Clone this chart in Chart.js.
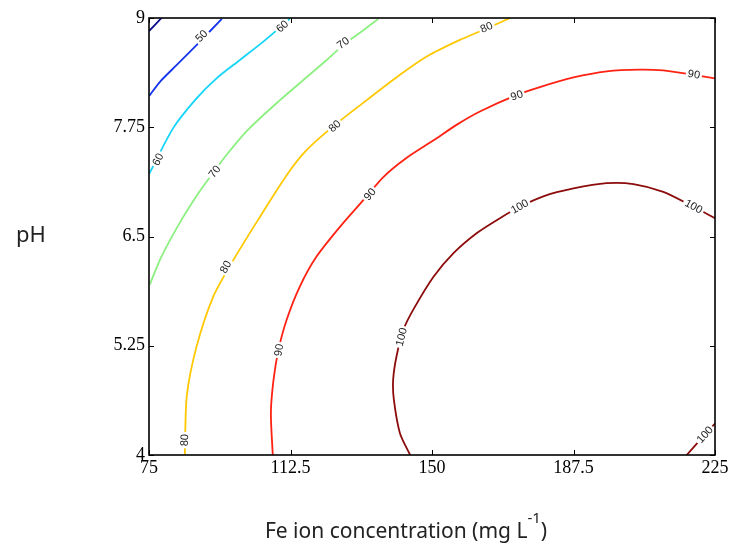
<!DOCTYPE html>
<html>
<head>
<meta charset="utf-8">
<script src="https://cdn.jsdelivr.net/npm/chart.js@4/dist/chart.umd.min.js"></script>
<style>
  html, body { margin: 0; padding: 0; background: #fff; }
  canvas { display: block; }
</style>
</head>
<body>
<canvas id="contourChart" width="732" height="552"></canvas>
<script>
//=========================================
// Axis ticks
//=========================================
const xTicks = [75, 112.5, 150, 187.5, 225];
const yTicks = [4, 5.25, 6.5, 7.75, 9];

//=========================================
// Contour lines, [Fe (mg/L), pH]
//=========================================
const contour40 = [[75.0, 8.85], [78.3, 9.0]];

const contour50 = [
  [75.1, 8.11], [77.9, 8.27], [82.3, 8.46], [87.6, 8.69], [94.3, 8.99]
];

const contour60 = [
  [75.1, 7.22], [81.4, 7.74], [87.6, 8.08], [92.9, 8.31],
  [99.1, 8.52], [105.3, 8.73], [110.2, 8.91], [112.3, 8.99]
];

const contour70 = [
  [75.2, 5.95], [78.3, 6.27], [83.6, 6.69], [88.0, 6.99], [91.5, 7.2],
  [95.1, 7.41], [101.2, 7.72], [109.7, 8.06], [115.9, 8.29], [122.1, 8.52],
  [126.5, 8.69], [131.8, 8.86], [135.8, 8.99]
];

const contour80 = [
  [84.5, 4.0], [85.0, 4.67], [87.6, 5.24], [92.0, 5.81], [96.8, 6.19],
  [103.9, 6.69], [111.8, 7.22], [116.8, 7.49], [123.8, 7.76], [132.7, 8.06],
  [141.5, 8.35], [148.6, 8.56], [157.4, 8.75], [164.5, 8.88], [170.7, 9.0]
];

const contour90 = [
  [107.8, 4.0], [107.3, 4.48], [108.0, 4.86], [109.3, 5.2], [111.5, 5.55],
  [115.0, 5.93], [119.4, 6.27], [125.6, 6.61], [132.5, 6.95], [137.1, 7.18],
  [143.3, 7.4], [150.4, 7.6], [156.6, 7.78], [162.7, 7.93], [172.5, 8.12],
  [178.6, 8.21], [187.5, 8.32], [196.3, 8.39], [205.1, 8.41], [211.3, 8.4],
  [219.3, 8.35], [225.0, 8.31]
];

const contour100 = [
  [144.2, 4.0], [141.5, 4.25], [139.9, 4.63], [139.7, 4.86], [140.6, 5.13],
  [142.4, 5.43], [145.0, 5.66], [150.4, 6.04], [155.7, 6.31], [161.9, 6.54],
  [168.0, 6.71], [173.3, 6.84], [179.5, 6.96], [187.5, 7.05], [196.3, 7.11],
  [203.4, 7.1], [211.3, 7.01], [219.3, 6.84], [225.0, 6.71]
];

const contour100b = [[217.5, 4.0], [221.0, 4.17], [225.0, 4.36]];

// inline level labels: [level, Fe, pH]
const levelLabels = [
  [50, 89.0, 8.79],
  [60, 110.4, 8.9], [60, 77.5, 7.38],
  [70, 126.5, 8.71], [70, 92.5, 7.24],
  [80, 164.5, 8.89], [80, 124.3, 7.76], [80, 95.4, 6.15], [80, 84.5, 4.17],
  [90, 219.4, 8.35], [90, 172.5, 8.11], [90, 133.6, 6.98], [90, 109.5, 5.2],
  [100, 173.3, 6.84], [100, 219.3, 6.84], [100, 142.0, 5.35], [100, 222.4, 4.23]
];

//------------------------------------
// Line styles per level
//------------------------------------
const levelColor = {
  40: "#0a0a8c",
  50: "#1434ee",
  60: "#14d4f8",
  70: "#8cf080",
  80: "#ffc800",
  90: "#ff2212",
  100: "#8c0c0c"
};

const contours = [
  { level: 40, pts: contour40 },
  { level: 50, pts: contour50 },
  { level: 60, pts: contour60 },
  { level: 70, pts: contour70 },
  { level: 80, pts: contour80 },
  { level: 90, pts: contour90 },
  { level: 100, pts: contour100 },
  { level: 100, pts: contour100b }
];

const tickFont = { family: "'Liberation Serif', 'Times New Roman', serif", size: 18 };
const titleFont = "'Noto Sans', 'DejaVu Sans', sans-serif";

//------------------------------------
// Labels, frame, inward ticks, titles
//------------------------------------
const decorPlugin = {
  id: "decor",
  afterDatasetsDraw(chart) {
    const ctx = chart.ctx;
    const xs = chart.scales.x, ys = chart.scales.y;
    ctx.save();
    ctx.font = "11px 'Liberation Sans', Arial, sans-serif";
    ctx.textAlign = "center";
    ctx.textBaseline = "middle";
    levelLabels.forEach(([lvl, lx, ly]) => {
      const px = xs.getPixelForValue(lx), py = ys.getPixelForValue(ly);
      // direction of the nearest segment of a line with the same level
      let best = Infinity, ang = 0;
      chart.data.datasets.forEach((ds, i) => {
        if (contours[i].level !== lvl) return;
        const pts = chart.getDatasetMeta(i).data;
        for (let k = 0; k < pts.length - 1; k++) {
          const a = pts[k], b = pts[k + 1];
          const mx = (a.x + b.x) / 2, my = (a.y + b.y) / 2;
          const d = (mx - px) ** 2 + (my - py) ** 2;
          if (d < best) { best = d; ang = Math.atan2(b.y - a.y, b.x - a.x); }
        }
      });
      if (ang >= Math.PI / 2) ang -= Math.PI;
      if (ang < -Math.PI / 2) ang += Math.PI;
      const txt = String(lvl);
      const w = ctx.measureText(txt).width;
      ctx.save();
      ctx.translate(px, py);
      ctx.rotate(ang);
      ctx.fillStyle = "#fff";
      ctx.fillRect(-w / 2 - 2, -6, w + 4, 12);
      ctx.fillStyle = "#222";
      ctx.fillText(txt, 0, 0);
      ctx.restore();
    });
    ctx.restore();
  },
  afterDraw(chart) {
    const ctx = chart.ctx;
    const a = chart.chartArea;
    const xs = chart.scales.x, ys = chart.scales.y;
    ctx.save();
    ctx.strokeStyle = "#000";
    ctx.lineWidth = 1.6;
    ctx.strokeRect(a.left, a.top, a.right - a.left, a.bottom - a.top);

    ctx.lineWidth = 1;
    const t = 5;
    ctx.beginPath();
    xTicks.forEach(v => {
      const px = Math.round(xs.getPixelForValue(v)) + 0.5;
      ctx.moveTo(px, a.bottom); ctx.lineTo(px, a.bottom - t);
      ctx.moveTo(px, a.top); ctx.lineTo(px, a.top + t);
    });
    yTicks.forEach(v => {
      const py = Math.round(ys.getPixelForValue(v)) + 0.5;
      ctx.moveTo(a.left, py); ctx.lineTo(a.left + t, py);
      ctx.moveTo(a.right, py); ctx.lineTo(a.right - t, py);
    });
    ctx.stroke();

    // axis titles
    ctx.fillStyle = "#222";
    ctx.textBaseline = "alphabetic";
    ctx.font = "22px " + titleFont;
    ctx.textAlign = "center";
    ctx.fillText("pH", 31, 242);

    const main = "Fe ion concentration (mg L";
    const sup = "-1";
    const close = ")";
    ctx.font = "21px " + titleFont;
    const mainW = ctx.measureText(main).width;
    const closeW = ctx.measureText(close).width;
    ctx.font = "15px " + titleFont;
    const supW = ctx.measureText(sup).width;
    const x0 = 406 - (mainW + supW + closeW) / 2;
    ctx.textAlign = "left";
    ctx.font = "21px " + titleFont;
    ctx.fillText(main, x0, 538);
    ctx.font = "15px " + titleFont;
    ctx.fillText(sup, x0 + mainW, 523);
    ctx.font = "21px " + titleFont;
    ctx.fillText(close, x0 + mainW + supW, 538);
    ctx.restore();
  }
};

//------------------------------------
// Contour chart
//------------------------------------
new Chart(document.getElementById("contourChart"), {
  type: "scatter",
  data: {
    datasets: contours.map(c => ({
      label: String(c.level),
      data: c.pts.map(([x, y]) => ({ x: x, y: y })),
      showLine: true,
      borderColor: levelColor[c.level],
      borderWidth: 1.8,
      pointRadius: 0,
      tension: 0.25,
      fill: false
    }))
  },
  options: {
    responsive: false,
    animation: false,
    layout: { padding: { left: 0, top: 18, right: 17, bottom: 0 } },
    plugins: { legend: { display: false }, tooltip: { enabled: false } },
    scales: {
      x: {
        type: "linear",
        min: 75,
        max: 225,
        afterBuildTicks: s => { s.ticks = xTicks.map(v => ({ value: v })); },
        afterFit: s => { s.height = 97; },
        grid: { display: false, drawTicks: false, tickLength: 0 },
        border: { display: false },
        ticks: { font: tickFont, color: "#000", padding: 2, maxRotation: 0, autoSkip: false,
                 callback: v => String(v) }
      },
      y: {
        type: "linear",
        min: 4,
        max: 9,
        afterBuildTicks: s => { s.ticks = yTicks.map(v => ({ value: v })); },
        afterFit: s => { s.width = 149; },
        grid: { display: false, drawTicks: false, tickLength: 0 },
        border: { display: false },
        ticks: { font: tickFont, color: "#000", padding: 4, autoSkip: false,
                 callback: v => String(v) }
      }
    }
  },
  plugins: [decorPlugin]
});
</script>
</body>
</html>
